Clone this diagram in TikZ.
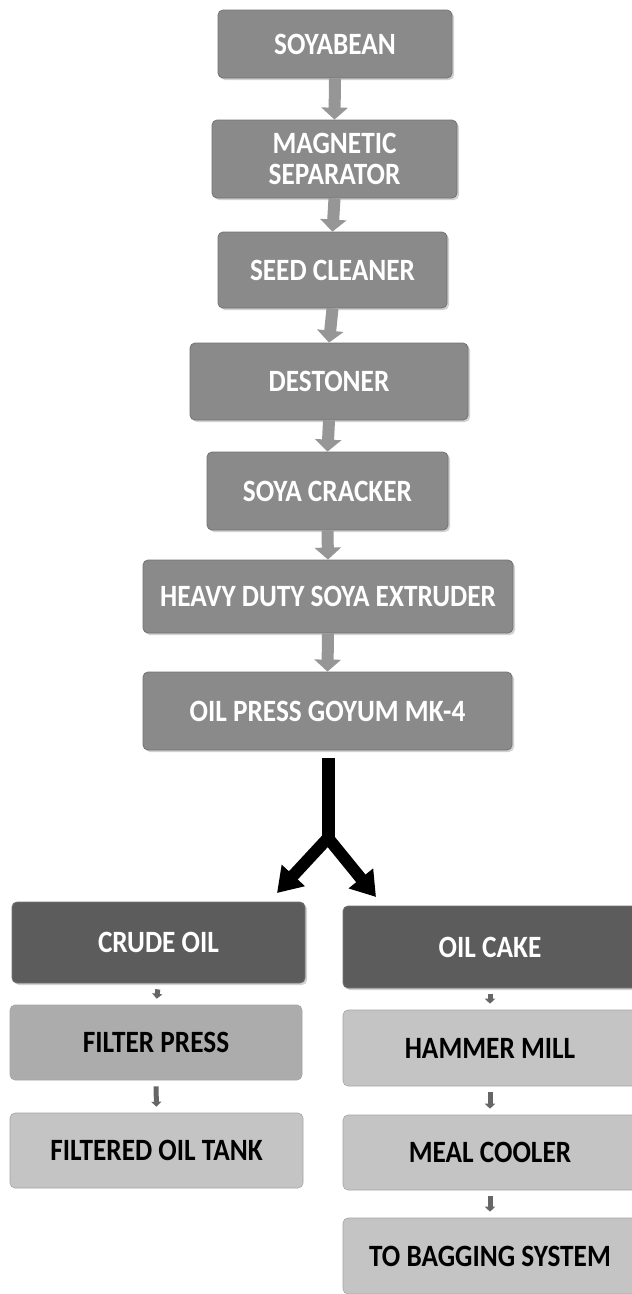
\documentclass[tikz,border=0pt]{standalone}
\usepackage{fontspec}
\newfontfamily\boxfont[FakeStretch=0.88]{Carlito}
\usetikzlibrary{arrows.meta,shadows}
\definecolor{topgray}{RGB}{138,138,138}
\definecolor{darkgray}{RGB}{92,92,92}
\definecolor{midgray}{RGB}{172,172,172}
\definecolor{lightgray}{RGB}{196,196,196}
\definecolor{arrowgray}{RGB}{150,150,150}
\tikzset{
  x=1pt,y=1pt,
  topbox/.style={draw=black!55,line width=0.8pt,fill=topgray,rounded corners=5pt,
    text=white,font=\boxfont\bfseries\fontsize{31}{31}\selectfont,align=center,
    drop shadow={opacity=0.35,shadow xshift=2pt,shadow yshift=-2pt},inner sep=0pt},
  darkbox/.style={topbox,fill=darkgray},
  lowbox/.style={draw=black!35,line width=0.6pt,fill=midgray,rounded corners=5pt,
    text=black,font=\boxfont\bfseries\fontsize{31}{31}\selectfont,align=center,inner sep=0pt},
  palebox/.style={lowbox,fill=lightgray},
  flowarrow/.style={arrowgray,line width=12pt,-{Triangle[width=26pt,length=12pt]},shorten >=0pt},
  smallarrow/.style={black!60,line width=5pt,-{Triangle[width=10pt,length=5pt]},shorten <=6pt,shorten >=6pt},
  splitstem/.style={black,line width=13pt},
  splitarrow/.style={black,line width=12pt,-{Triangle[width=30pt,length=24pt]}}
}
\begin{document}
\begin{tikzpicture}
\useasboundingbox (0,0) rectangle (632,-1294);
\fill[white] (0,0) rectangle (632,-1294);
% main chain
\node[topbox,minimum width=234pt,minimum height=68pt] (soy) at (335,-44) {SOYABEAN};
\node[topbox,minimum width=245pt,minimum height=78pt] (mag) at (334.5,-159) {MAGNETIC\\SEPARATOR};
\node[topbox,minimum width=229pt,minimum height=76pt] (seed) at (332.5,-270) {SEED CLEANER};
\node[topbox,minimum width=278pt,minimum height=77pt] (dest) at (329,-381.5) {DESTONER};
\node[topbox,minimum width=241pt,minimum height=78pt] (crack) at (327.5,-491) {SOYA CRACKER};
\node[topbox,minimum width=370pt,minimum height=73pt] (extr) at (328,-596.5) {HEAVY DUTY SOYA EXTRUDER};
\node[topbox,minimum width=369pt,minimum height=78pt] (press) at (327.5,-711) {OIL PRESS GOYUM MK-4};
% branches
\node[darkbox,minimum width=293pt,minimum height=81pt] (crude) at (158.5,-942.5) {CRUDE OIL};
\node[darkbox,minimum width=294pt,minimum height=82pt] (cake) at (490,-947) {OIL CAKE};
\node[lowbox,minimum width=292pt,minimum height=75pt] (filter) at (156,-1042.5) {FILTER PRESS};
\node[palebox,minimum width=293pt,minimum height=75pt] (tank) at (156.5,-1150.5) {FILTERED OIL TANK};
\node[palebox,minimum width=294pt,minimum height=76pt] (hammer) at (490,-1048) {HAMMER MILL};
\node[palebox,minimum width=294pt,minimum height=75pt] (cooler) at (490,-1152.5) {MEAL COOLER};
\node[palebox,minimum width=294pt,minimum height=76pt] (bag) at (490,-1256) {TO BAGGING SYSTEM};
% flow arrows
\draw[flowarrow] (soy.south) -- (mag.north);
\draw[flowarrow] (mag.south) -- (seed.north);
\draw[flowarrow] (seed.south) -- (dest.north);
\draw[flowarrow] (dest.south) -- (crack.north);
\draw[flowarrow] (crack.south) -- (extr.north);
\draw[flowarrow] (extr.south) -- (press.north);
% split arrow
\coordinate (stemtop) at (328,-758);
\coordinate (fork) at (328,-842);
\coordinate (ltip) at (277,-893);
\coordinate (rtip) at (376,-897);
\draw[splitstem] (stemtop) -- (fork);
\draw[splitarrow] ([yshift=4pt]fork) -- (ltip);
\draw[splitarrow] ([yshift=4pt]fork) -- (rtip);
% small arrows
\draw[smallarrow] (crude.south) -- (filter.north);
\draw[smallarrow] (filter.south) -- (tank.north);
\draw[smallarrow] (cake.south) -- (hammer.north);
\draw[smallarrow] (hammer.south) -- (cooler.north);
\draw[smallarrow] (cooler.south) -- (bag.north);
\end{tikzpicture}
\end{document}
